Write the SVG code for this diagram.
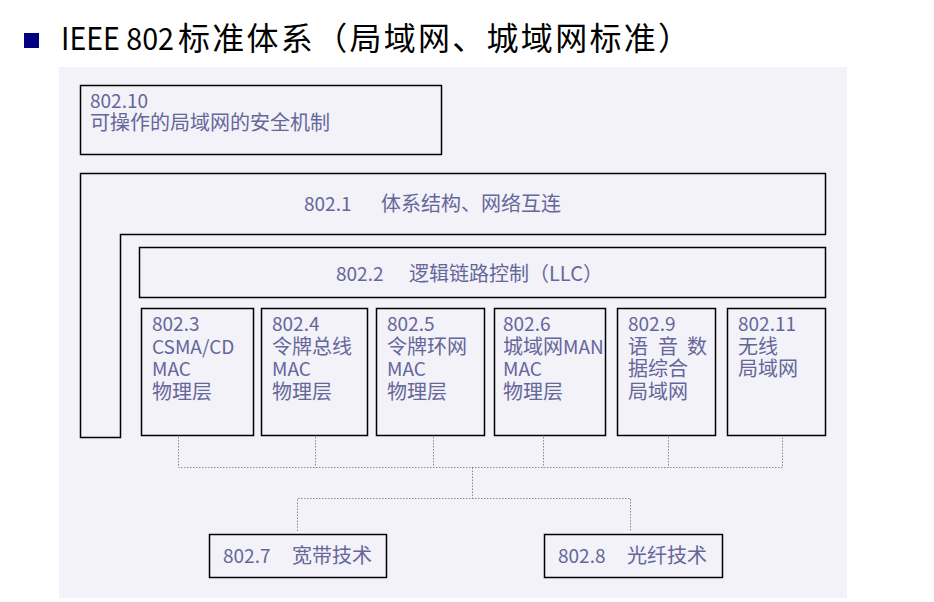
<svg xmlns="http://www.w3.org/2000/svg" width="934" height="602" viewBox="0 0 934 602">
<style>
.box{fill:none;stroke:#000;stroke-width:1.5}
.t{font-family:"Noto Sans CJK SC","Noto Sans",sans-serif;font-size:19px;fill:#66669a}
.c{font-size:20px}
.title{font-family:"Noto Sans CJK SC","Noto Sans",sans-serif;font-size:31px;fill:#000}
.dot{fill:none;stroke:#8a8a8a;stroke-width:1;stroke-dasharray:1.5 1.5}
</style>
<rect width="934" height="602" fill="#ffffff"/>
<rect x="24" y="33" width="15" height="15" fill="#000080"/>
<text class="title" y="50"><tspan x="61" textLength="113" lengthAdjust="spacingAndGlyphs">IEEE 802</tspan><tspan x="178" font-size="32" textLength="512" lengthAdjust="spacing">标准体系（局域网、城域网标准）</tspan></text>
<rect x="59" y="67" width="788" height="531" fill="#f2f2f8"/>

<g id="n80210">
<rect class="box" x="80.5" y="85.5" width="361" height="69"/>
<text class="t"><tspan x="90" y="108">802.10</tspan><tspan class="c" x="90" y="130">可操作的局域网的安全机制</tspan></text>
</g>

<g id="n8021">
<path class="box" d="M80.5 173.5 H825.5 V234.5 H120.5 V437.5 H80.5 Z"/>
<text class="t" y="211"><tspan x="304">802.1</tspan><tspan class="c" x="381">体系结构、网络互连</tspan></text>
</g>

<g id="n8022">
<rect class="box" x="139.5" y="247.5" width="686" height="50"/>
<text class="t" y="281"><tspan x="336">802.2</tspan><tspan class="c" x="409">逻辑链路控制（LLC）</tspan></text>
</g>

<g id="n8023">
<rect class="box" x="141.5" y="308.5" width="112" height="127"/>
<text class="t"><tspan x="152" y="331">802.3</tspan><tspan x="152" y="353.5">CSMA/CD</tspan><tspan x="152" y="376">MAC</tspan><tspan class="c" x="152" y="398.5">物理层</tspan></text>
</g>

<g id="n8024">
<rect class="box" x="261.5" y="308.5" width="106" height="127"/>
<text class="t"><tspan x="272" y="331">802.4</tspan><tspan class="c" x="272" y="353.5">令牌总线</tspan><tspan x="272" y="376">MAC</tspan><tspan class="c" x="272" y="398.5">物理层</tspan></text>
</g>

<g id="n8025">
<rect class="box" x="376.5" y="308.5" width="108" height="127"/>
<text class="t"><tspan x="387" y="331">802.5</tspan><tspan class="c" x="387" y="353.5">令牌环网</tspan><tspan x="387" y="376">MAC</tspan><tspan class="c" x="387" y="398.5">物理层</tspan></text>
</g>

<g id="n8026">
<rect class="box" x="494.5" y="308.5" width="111" height="127"/>
<text class="t"><tspan x="503" y="331">802.6</tspan><tspan class="c" x="503" y="353.5">城域网</tspan><tspan>MAN</tspan><tspan x="503" y="376">MAC</tspan><tspan class="c" x="503" y="398.5">物理层</tspan></text>
</g>

<g id="n8029">
<rect class="box" x="617.5" y="308.5" width="98" height="127"/>
<text class="t"><tspan x="628" y="331">802.9</tspan><tspan class="c" x="628" y="353.5">语</tspan><tspan class="c" x="658" y="353.5">音</tspan><tspan class="c" x="687" y="353.5">数</tspan><tspan class="c" x="628" y="376">据综合</tspan><tspan class="c" x="628" y="398.5">局域网</tspan></text>
</g>

<g id="n80211">
<rect class="box" x="727.5" y="308.5" width="98" height="127"/>
<text class="t"><tspan x="738" y="331">802.11</tspan><tspan class="c" x="738" y="353.5">无线</tspan><tspan class="c" x="738" y="376">局域网</tspan></text>
</g>

<g id="n8027">
<rect class="box" x="209.5" y="534.5" width="177" height="43"/>
<text class="t" y="563"><tspan x="223">802.7</tspan><tspan class="c" x="292">宽带技术</tspan></text>
</g>

<g id="n8028">
<rect class="box" x="544.5" y="534.5" width="178" height="43"/>
<text class="t" y="563"><tspan x="558">802.8</tspan><tspan class="c" x="627">光纤技术</tspan></text>
</g>

<g id="connectors">
<path class="dot" d="M178.5 437 V467.5 H782.5 V437"/>
<path class="dot" d="M315.5 437 V467.5 M433.5 437 V467.5 M543.5 437 V467.5 M668.5 437 V467.5"/>
<path class="dot" d="M472.5 467.5 V498.5"/>
<path class="dot" d="M297.5 531 V498.5 H630.5 V531"/>
</g>
</svg>
